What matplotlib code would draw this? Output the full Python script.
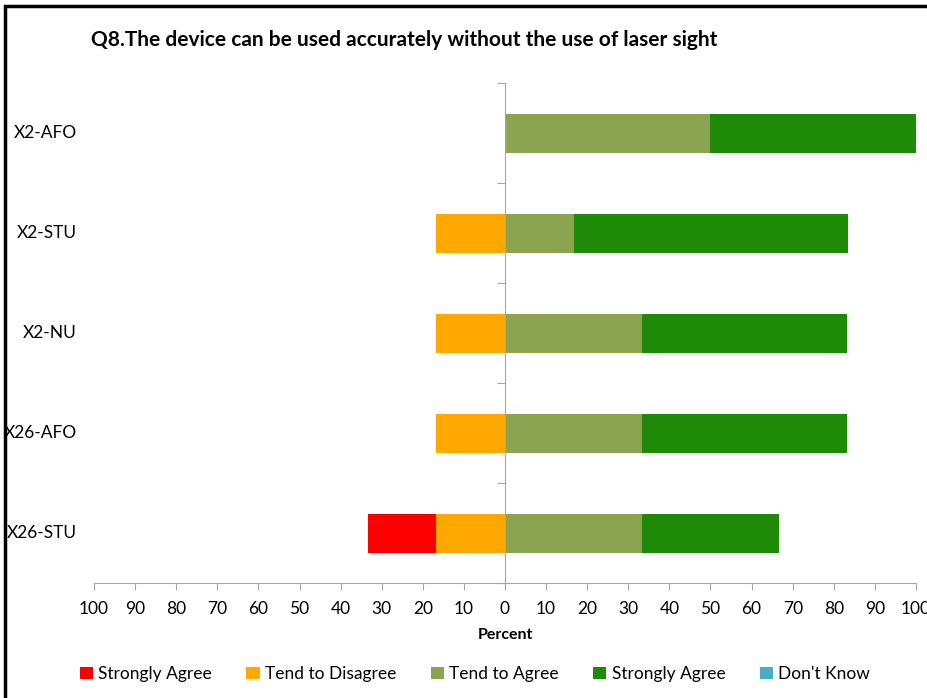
"""Q8 - diverging stacked bar chart (laser sight question)."""
import matplotlib
matplotlib.use("Agg")
import matplotlib.pyplot as plt
from matplotlib.patches import Rectangle, Patch
import matplotlib.transforms as mtransforms

plt.rcParams["font.family"] = ["Lato", "DejaVu Sans"]

# Data (percent)
groups = ["X2-AFO", "X2-STU", "X2-NU", "X26-AFO", "X26-STU"]
strongly_disagree = [0, 0, 0, 0, 16.7]   # labelled "Strongly Agree" in the legend
tend_disagree = [0, 16.7, 16.7, 16.7, 16.7]
tend_agree = [50, 16.7, 33.3, 33.3, 33.3]
strongly_agree = [50, 66.7, 50, 50, 33.3]
dont_know = [0, 0, 0, 0, 0]

legend_labels = ["Strongly Agree", "Tend to Disagree", "Tend to Agree",
                 "Strongly Agree", "Don't Know"]
colors = ["#FF0000", "#FFA800", "#8AA450", "#1F8A07", "#4BACC6"]
xticks = list(range(-100, 101, 10))

W, H = 928, 698
fig = plt.figure(figsize=(W / 100, H / 100), dpi=100)
ax = fig.add_axes([94 / W, 1 - 583 / H, (916 - 94) / W, (583 - 83) / H])

y = list(range(len(groups)))
bh = 0.39
# negative side: tend to disagree next to zero, strongly disagree beyond it
ax.barh(y, [-v for v in tend_disagree], height=bh, color=colors[1])
ax.barh(y, [-v for v in strongly_disagree], left=[-v for v in tend_disagree],
        height=bh, color=colors[0])
# positive side
ax.barh(y, tend_agree, height=bh, color=colors[2])
ax.barh(y, strongly_agree, left=tend_agree, height=bh, color=colors[3])
ax.barh(y, dont_know, left=[a + b for a, b in zip(tend_agree, strongly_agree)],
        height=bh, color=colors[4])

ax.set_xlim(-100, 100)
ax.set_ylim(len(groups) - 0.5, -0.5)

gray = "#A6A6A6"
for s in ["top", "right"]:
    ax.spines[s].set_visible(False)
ax.spines["left"].set_position(("data", 0))
ax.spines["left"].set_color(gray)
ax.spines["bottom"].set_color(gray)

ax.set_xticks(xticks)
ax.set_xticklabels([str(abs(t)) for t in xticks], fontsize=12.5)
ax.tick_params(axis="x", length=5, color=gray, pad=8)
ax.set_yticks([i - 0.5 for i in range(len(groups) + 1)])
ax.set_yticklabels([])
ax.tick_params(axis="y", length=6, color=gray)

trans = mtransforms.blended_transform_factory(fig.transFigure, ax.transData)
for i, g in enumerate(groups):
    ax.text(77 / W, i, g, transform=trans, ha="right", va="center", fontsize=12.5)

ax.set_xlabel("Percent", fontsize=11.5, fontweight="bold", labelpad=8)

fig.text(404 / W, 1 - 40 / H,
         "Q8.The device can be used accurately without the use of laser sight",
         ha="center", va="center", fontsize=15, fontweight="bold")

handles = [Patch(facecolor=c) for c in colors]
fig.legend(handles, legend_labels, loc="center", bbox_to_anchor=(475 / W, 1 - 674 / H),
           ncol=5, frameon=False, fontsize=12.5, handlelength=0.75, handleheight=0.75,
           handletextpad=0.3, columnspacing=2.0)

fig.patches.append(Rectangle((5 / W, -0.01), 1.0, 1 - 6 / H + 0.01,
                             transform=fig.transFigure, fill=False,
                             edgecolor="black", linewidth=2.5))

fig.savefig("out.png", dpi=100)
